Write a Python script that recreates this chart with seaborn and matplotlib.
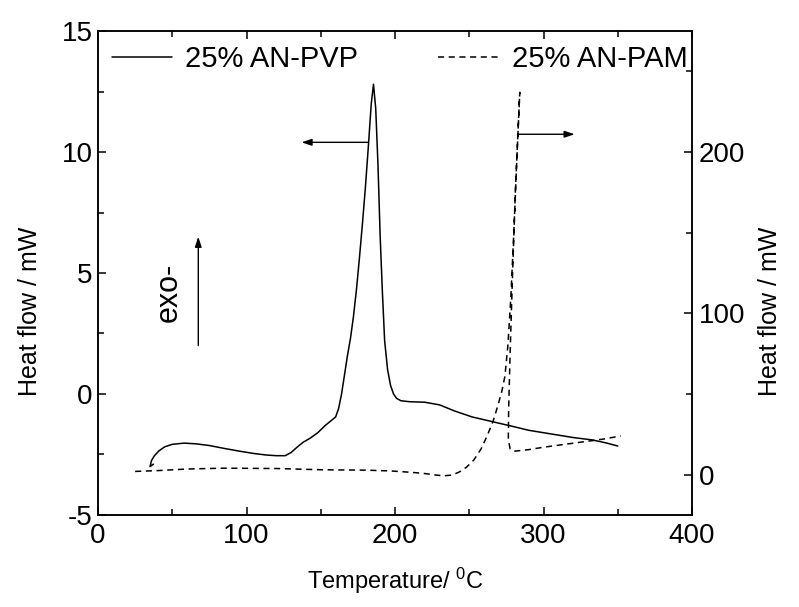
import pandas as pd
import seaborn as sns
import matplotlib.pyplot as plt
from matplotlib.ticker import MultipleLocator

# 25% AN-PVP, left axis (mW)
pvp_temp = [37.3, 35, 36, 38, 41, 45, 50, 58, 66, 75, 85, 95, 105, 113, 120, 126, 130, 134, 138,
            143, 148, 153, 157, 160, 162, 164, 166, 168, 170, 172, 174, 176, 178, 180, 182,
            184, 185.5, 187, 188.5, 190, 191.5, 193, 195, 197, 199, 201, 204, 210, 220, 230,
            240, 252, 266, 280, 290, 300, 310, 320, 333, 342, 350]
pvp_flow = [-2.9, -3.0, -2.75, -2.55, -2.35, -2.18, -2.08, -2.03, -2.06, -2.13, -2.25, -2.36, -2.46,
            -2.52, -2.55, -2.55, -2.42, -2.2, -2.0, -1.82, -1.6, -1.3, -1.1, -0.95, -0.6, 0.0,
            0.8, 1.6, 2.3, 3.2, 4.3, 5.6, 7.0, 8.5, 10.2, 12.0, 12.8, 11.8, 9.5, 6.5, 4.2, 2.2,
            1.0, 0.35, 0.0, -0.18, -0.28, -0.32, -0.34, -0.45, -0.7, -0.95, -1.15, -1.35, -1.5,
            -1.6, -1.7, -1.8, -1.9, -2.02, -2.15]

# 25% AN-PAM, right axis (mW)
pam_temp = [25, 40, 60, 84, 120, 152, 180, 197, 210, 219, 228, 233, 238, 243, 248, 253, 258,
            262, 266, 269, 272, 274, 276, 278, 280, 282, 284, 281, 279, 277.5, 276.5, 276.3,
            277.5, 280, 290, 300, 320, 340, 352]
pam_flow = [2, 2.5, 3.5, 4, 3.8, 3, 2.8, 2.3, 1.5, 0.8, -0.3, -0.7, -0.3, 1.5, 4.5, 9, 16,
            24, 33, 42, 52, 61, 80, 110, 150, 195, 237, 175, 120, 75, 40, 22, 16, 14.5, 15.5,
            17, 19.5, 22, 24]

sns.set_style("ticks")
plt.rcParams['font.family'] = ['Liberation Sans', 'DejaVu Sans']
plt.rcParams['mathtext.default'] = 'regular'
plt.rcParams['axes.unicode_minus'] = False
plt.rcParams['axes.linewidth'] = 1.1
plt.rcParams['axes.edgecolor'] = 'black'
plt.rcParams['axes.labelcolor'] = 'black'
plt.rcParams['text.color'] = 'black'
plt.rcParams['xtick.color'] = 'black'
plt.rcParams['ytick.color'] = 'black'

fig = plt.figure(figsize=(7.99, 6.07), dpi=100)
ax = fig.add_axes([0.1227, 0.1516, 0.7434, 0.7973])
ax2 = ax.twinx()

df_pvp = pd.DataFrame({"T": pvp_temp, "HF": pvp_flow})
df_pam = pd.DataFrame({"T": pam_temp, "HF": pam_flow})

sns.lineplot(data=df_pvp, x="T", y="HF", ax=ax, color="black", lw=1.1,
             sort=False, estimator=None)
sns.lineplot(data=df_pam, x="T", y="HF", ax=ax2, color="black", lw=1.1,
             sort=False, estimator=None, linestyle=(0, (4, 3)))

ax.set_xlim(0, 400)
ax.set_ylim(-5, 15)
ax2.set_ylim(-25, 275)
ax.xaxis.set_major_locator(MultipleLocator(100))
ax.xaxis.set_minor_locator(MultipleLocator(50))
ax.yaxis.set_major_locator(MultipleLocator(5))
ax.yaxis.set_minor_locator(MultipleLocator(2.5))
ax2.set_yticks([0, 100, 200])
ax2.yaxis.set_minor_locator(MultipleLocator(50))

ax.tick_params(which='both', direction='in', top=True, right=False, labelsize=20, width=1.1)
ax.tick_params(which='major', length=6)
ax.tick_params(which='minor', length=4)
ax.tick_params(axis='x', pad=6)
ax.tick_params(axis='y', pad=4)
ax2.tick_params(which='both', direction='in', left=False, right=True, labelsize=20, width=1.1,
                pad=5)
ax2.tick_params(which='major', length=6)
ax2.tick_params(which='minor', length=4)

ax.set_xlabel("Temperature/ $^0$C", fontsize=17, labelpad=12)
ax.set_ylabel("Heat flow / mW", fontsize=18)
ax2.set_ylabel("Heat flow / mW", fontsize=18)
ax.yaxis.set_label_coords(-0.094, 0.42)
ax2.yaxis.set_label_coords(1.111, 0.42)

# arrows and exo marker
arrow = dict(arrowstyle="-|>,head_length=0.6,head_width=0.2", color="black", lw=1,
             shrinkA=0, shrinkB=0)
ax.annotate("", xy=(137, 10.4), xytext=(182, 10.4), arrowprops=arrow)
ax2.annotate("", xy=(321, 211), xytext=(283, 211), arrowprops=arrow)
ax.annotate("", xy=(67.5, 6.5), xytext=(67.5, 2.0), arrowprops=arrow)
ax.text(47.4, 4.2, "exo-", rotation=90, ha='center', va='center', fontsize=22)

handles = [ax.get_lines()[0], ax2.get_lines()[0]]
ax2.legend(handles, ["25% AN-PVP", "25% AN-PAM"], ncol=2, frameon=False, fontsize=21,
           loc="center left", bbox_to_anchor=(0.023, 0.9415), borderpad=0,
           borderaxespad=0, handlelength=2.07, handletextpad=0.45, columnspacing=2.75)

plt.savefig("out.png", dpi=100)
